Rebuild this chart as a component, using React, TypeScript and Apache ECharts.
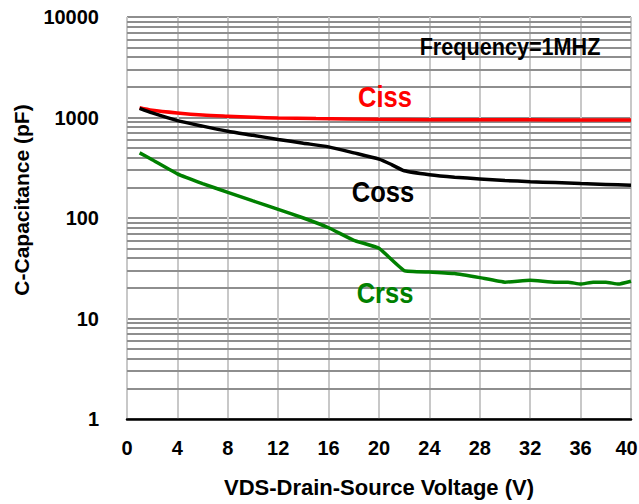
import React, { useEffect, useRef } from "react";
import * as echarts from "echarts";

const cissData: [number, number][] = [
  [1, 1250], [2, 1180], [4, 1110], [6, 1060], [8, 1030], [10, 1005], [12, 990],
  [15, 975], [20, 958], [24, 952], [28, 950], [32, 948], [36, 946], [40, 945],
];
const cossData: [number, number][] = [
  [1, 1230], [2, 1110], [4, 930], [6, 820], [8, 730], [10, 665], [12, 605],
  [14, 555], [16, 510], [18, 445], [20, 385], [21, 340], [22, 295], [24, 270],
  [26, 255], [28, 245], [30, 236], [32, 230], [34, 225], [36, 220], [38, 216], [40, 212],
];
const crssData: [number, number][] = [
  [1, 445], [2, 380], [4, 275], [6, 220], [8, 180], [10, 148], [12, 122],
  [14, 100], [16, 80], [18, 60], [20, 50], [22, 30], [24, 29], [26, 28],
  [28, 25.5], [30, 23], [32, 24], [34, 23], [35, 23], [36, 22], [37, 23],
  [38, 23], [39, 22], [40, 23.5],
];
const decades = [1, 10, 100, 1000];
const minorMultipliers = [2, 3, 4, 5, 6, 7, 8, 9];
const labels = [
  { text: "Ciss", color: "#ff0000", x: 385, y: 97 },
  { text: "Coss", color: "#000000", x: 383, y: 192 },
  { text: "Crss", color: "#008000", x: 385, y: 293 },
];
const freqText = "Frequency=1MHZ";
const X_MAX = 40;

const FONT = "'Liberation Sans', Arial, sans-serif";

export default function App() {
  const ref = useRef<HTMLDivElement>(null);
  useEffect(() => {
    if (!ref.current) return;
    const chart = echarts.init(ref.current, undefined, { renderer: "svg" });
    const minorLines: { yAxis: number }[] = [];
    decades.forEach((d) => minorMultipliers.forEach((m) => minorLines.push({ yAxis: d * m })));
    const hColor = "#8e8e8e";
    chart.setOption({
      animation: false,
      backgroundColor: "#ffffff",
      grid: { left: 127, right: 8, top: 17, bottom: 85, outerBoundsMode: "none", containLabel: false },
      xAxis: {
        type: "value",
        min: 0,
        max: X_MAX,
        interval: 4,
        name: "VDS-Drain-Source Voltage (V)",
        nameLocation: "middle",
        nameGap: 57,
        nameTextStyle: { fontFamily: FONT, fontWeight: "bold", fontSize: 22, color: "#000" },
        axisLine: { show: true, onZero: false, lineStyle: { color: "#000", width: 2.5 } },
        axisTick: { show: false },
        axisLabel: {
          fontFamily: FONT, fontWeight: "bold", fontSize: 20, color: "#000", margin: 19,
          formatter: (v: number) => (v === X_MAX ? `{last|${v}}` : String(v)),
          rich: {
            last: { fontFamily: FONT, fontWeight: "bold", fontSize: 20, color: "#000", padding: [0, 9, 0, 0] },
          },
        },
        splitLine: { show: true, lineStyle: { color: "#c8c8c8", width: 2 } },
      },
      yAxis: {
        type: "log",
        logBase: 10,
        min: 1,
        max: 10000,
        name: "C-Capacitance (pF)",
        nameLocation: "middle",
        nameGap: 94,
        nameRotate: 90,
        nameTextStyle: {
          fontFamily: FONT, fontWeight: "bold", fontSize: 21, color: "#000",
          padding: [0, 0, 0, 36],
        },
        axisLine: { show: false },
        axisTick: { show: false },
        axisLabel: {
          fontFamily: FONT, fontWeight: "bold", fontSize: 20, color: "#000", margin: 28,
          formatter: (v: number) => String(Math.round(v)),
        },
        splitLine: { show: true, lineStyle: { color: hColor, width: 2 } },
      },
      graphic: [
        ...labels.map((l) => ({
          type: "text",
          x: l.x,
          y: l.y,
          scaleX: 0.88,
          z: 100,
          style: {
            text: l.text,
            fill: l.color,
            font: `bold 29px ${FONT}`,
            textAlign: "center",
            textVerticalAlign: "middle",
          },
        })),
        {
          type: "text",
          x: 510,
          y: 47,
          scaleX: 0.94,
          z: 100,
          style: {
            text: freqText,
            fill: "#000",
            font: `bold 23px ${FONT}`,
            textAlign: "center",
            textVerticalAlign: "middle",
          },
        },
      ],
      series: [
        {
          name: "grid-minor",
          type: "line",
          data: [],
          silent: true,
          z: 1,
          markLine: {
            silent: true,
            z: 1,
            symbol: ["none", "none"],
            label: { show: false },
            lineStyle: { color: hColor, width: 2, type: "solid" },
            data: minorLines,
          },
        },
        {
          name: "Ciss",
          type: "line",
          data: cissData,
          showSymbol: false,
          smooth: 0.3,
          z: 5,
          lineStyle: { color: "#ff0000", width: 3.5 },
          itemStyle: { color: "#ff0000" },
        },
        {
          name: "Coss",
          type: "line",
          data: cossData,
          showSymbol: false,
          smooth: 0.2,
          z: 5,
          lineStyle: { color: "#000000", width: 3.5 },
          itemStyle: { color: "#000000" },
        },
        {
          name: "Crss",
          type: "line",
          data: crssData,
          showSymbol: false,
          smooth: 0.1,
          z: 5,
          lineStyle: { color: "#008000", width: 3.5 },
          itemStyle: { color: "#008000" },
        },
      ],
    });
    return () => chart.dispose();
  }, []);
  return <div ref={ref} style={{ width: 639, height: 504, position: "absolute", left: 0, top: 0 }} />;
}
